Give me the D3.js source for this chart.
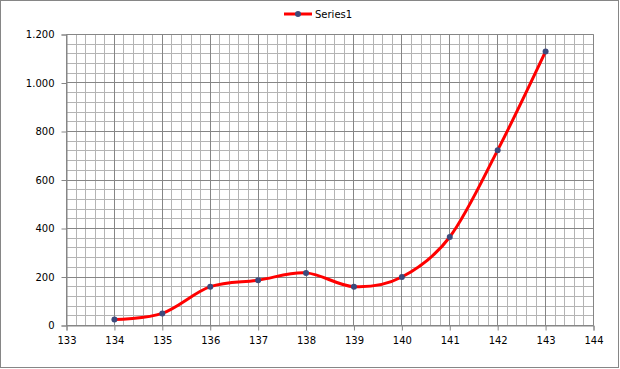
<!DOCTYPE html>
<html>
<head>
<meta charset="utf-8">
<script src="https://cdn.jsdelivr.net/npm/d3@7/dist/d3.min.js"></script>
<style>
  body { margin: 0; background: #fff; }
  svg text { font-family: "DejaVu Sans", Verdana, sans-serif; font-size: 10px; fill: #000; }
</style>
</head>
<body>
<div class="chart"></div>
<script>
// data
const xValues = [134, 135, 136, 137, 138, 139, 140, 141, 142, 143];
const series1 = [25, 50, 160, 187, 217, 160, 200, 365, 723, 1130];
const seriesName = 'Series1';
const xTicks = [133, 134, 135, 136, 137, 138, 139, 140, 141, 142, 143, 144];
const yTicks = [0, 200, 400, 600, 800, 1000, 1200];

const width = 620, height = 369;
const margin = { top: 34.5, right: 26.5, bottom: 43.5, left: 66.5 };
const w = width - margin.left - margin.right;
const h = height - margin.top - margin.bottom;

const svg = d3.select('.chart').append('svg')
    .attr('width', width)
    .attr('height', height);

// outer chart border
svg.append('rect')
    .attr('x', 0.5).attr('y', 0.5)
    .attr('width', width - 2).attr('height', height - 2)
    .attr('fill', '#fff')
    .attr('stroke', '#868686');

const g = svg.append('g')
    .attr('transform', 'translate(' + margin.left + ',' + margin.top + ')');

const x = d3.scaleLinear().domain([133, 144]).range([0, w]);
const y = d3.scaleLinear().domain([0, 1200]).range([h, 0]);

const fmt = d3.formatLocale({ decimal: ',', thousands: '.', grouping: [3], currency: ['', ''] }).format(',d');

// minor grid (5 per major step)
const minorX = d3.range(133, 144.001, 0.2);
const minorY = d3.range(0, 1200.001, 40);
g.append('g').selectAll('line')
    .data(minorX)
    .enter().append('line')
    .attr('x1', d => Math.round(x(d))).attr('x2', d => Math.round(x(d)))
    .attr('y1', 0).attr('y2', h)
    .attr('stroke', '#b4b4b4');
g.append('g').selectAll('line')
    .data(minorY)
    .enter().append('line')
    .attr('y1', d => Math.round(y(d))).attr('y2', d => Math.round(y(d)))
    .attr('x1', 0).attr('x2', w)
    .attr('stroke', '#b4b4b4');

// major grid
g.append('g').selectAll('line')
    .data(xTicks)
    .enter().append('line')
    .attr('x1', d => Math.round(x(d))).attr('x2', d => Math.round(x(d)))
    .attr('y1', 0).attr('y2', h)
    .attr('stroke', '#868686');
g.append('g').selectAll('line')
    .data(yTicks)
    .enter().append('line')
    .attr('y1', d => Math.round(y(d))).attr('y2', d => Math.round(y(d)))
    .attr('x1', 0).attr('x2', w)
    .attr('stroke', '#868686');

// axes
const xAxis = g.append('g')
    .attr('transform', 'translate(0,' + h + ')')
    .call(d3.axisBottom(x).tickValues(xTicks).tickSize(5).tickPadding(6).tickFormat(d3.format('d')));
const yAxis = g.append('g')
    .call(d3.axisLeft(y).tickValues(yTicks).tickSize(5).tickPadding(7).tickFormat(fmt));
[xAxis, yAxis].forEach(a => {
    a.selectAll('path').attr('stroke', '#868686');
    a.selectAll('line').attr('stroke', '#868686');
    a.selectAll('text').style('font-family', '"DejaVu Sans", Verdana, sans-serif').style('font-size', '10px').attr('fill', '#000');
});

// the smoothed line
const data = xValues.map((d, i) => ({ x: d, y: series1[i] }));
const line = d3.line()
    .x(d => x(d.x))
    .y(d => y(d.y))
    .curve(d3.curveCatmullRom.alpha(0));
g.append('path')
    .datum(data)
    .attr('d', line)
    .attr('fill', 'none')
    .attr('stroke', '#ff0000')
    .attr('stroke-width', 3)
    .attr('stroke-linecap', 'round');

g.append('g').selectAll('circle')
    .data(data)
    .enter().append('circle')
    .attr('cx', d => x(d.x))
    .attr('cy', d => y(d.y))
    .attr('r', 3)
    .attr('fill', '#3d4a7c');

// legend
const leg = svg.append('g').attr('transform', 'translate(284,14)');
leg.append('line')
    .attr('x1', 0).attr('x2', 28)
    .attr('stroke', '#ff0000').attr('stroke-width', 3);
leg.append('circle')
    .attr('cx', 14).attr('r', 3).attr('fill', '#3d4a7c');
leg.append('text')
    .attr('x', 31).attr('y', 3.5)
    .text(seriesName);
</script>
</body>
</html>
